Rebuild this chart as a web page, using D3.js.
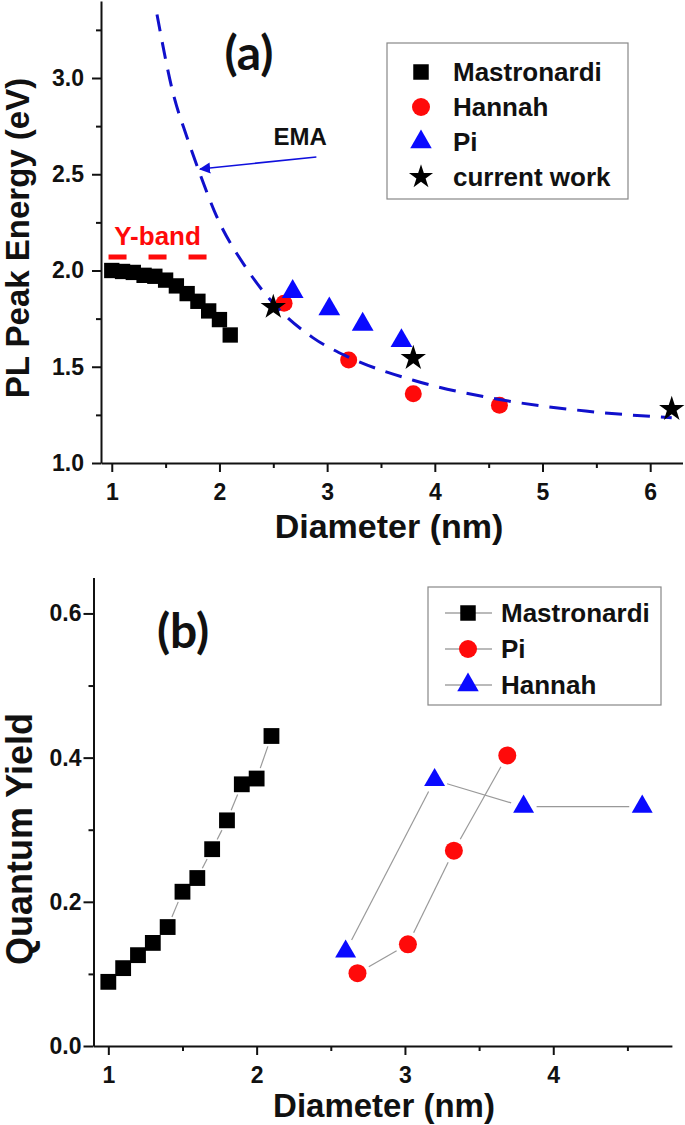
<!DOCTYPE html>
<html><head><meta charset="utf-8">
<script src="https://cdn.jsdelivr.net/npm/d3@7/dist/d3.min.js"></script>
<style>
body{margin:0;background:#fff}
svg text{font-family:"Liberation Sans",Arial,sans-serif;font-weight:bold;fill:#111}
</style>
</head><body>
<svg id="c" width="685" height="1125"></svg>
<script>
// ---------- Panel (a): PL peak energy vs diameter ----------
const mastD   = [1.0,1.1,1.2,1.3,1.4,1.5,1.6,1.7,1.8,1.9,2.0,2.1];
const mastE   = [2.00,1.995,1.99,1.975,1.97,1.95,1.92,1.88,1.84,1.79,1.745,1.665];
const hannahD = [2.6,3.2,3.8,4.6];
const hannahE = [1.83,1.535,1.36,1.30];
const piD     = [2.68,3.02,3.33,3.69];
const piE     = [1.89,1.80,1.72,1.635];
const curD    = [2.5,3.8,6.2];
const curE    = [1.81,1.545,1.28];
const emaD    = [1.42,1.57,1.70,1.82,1.975,2.24,2.5,2.87,3.2,3.8,4.6,5.4,6.2];
const emaE    = [3.33,2.92,2.69,2.50,2.28,2.02,1.83,1.65,1.55,1.43,1.33,1.27,1.235];
const yBandD  = [0.97,1.91];
const yBandE  = 2.07;
const topXTicks = [1,2,3,4,5,6];
const topXMinor = [1.5,2.5,3.5,4.5,5.5];
const topYTicks = [1.0,1.5,2.0,2.5,3.0];
const topYMinor = [1.25,1.75,2.25,2.75,3.25];
const topLegend = ["Mastronardi","Hannah","Pi","current work"];

// ---------- Panel (b): quantum yield vs diameter ----------
const qyMastD   = [1.0,1.1,1.2,1.3,1.4,1.5,1.6,1.7,1.8,1.9,2.0,2.1];
const qyMast    = [0.089,0.108,0.126,0.143,0.165,0.214,0.233,0.273,0.313,0.363,0.371,0.430];
const qyPiD     = [2.68,3.02,3.33,3.69];
const qyPi      = [0.101,0.141,0.271,0.403];
const qyHannahD = [2.6,3.2,3.8,4.6];
const qyHannah  = [0.131,0.369,0.332,0.332];
const botXTicks = [1,2,3,4];
const botXMinor = [1.5,2.5,3.5,4.5];
const botYTicks = [0.0,0.2,0.4,0.6];
const botYMinor = [0.1,0.3,0.5];
const botLegend = ["Mastronardi","Pi","Hannah"];

const RED = "#ff0a0a", BLUE = "#0a0aff", BLACK = "#000";
const svg = d3.select("#c");

function sym(type, size){ return d3.symbol().type(type).size(size)(); }

function drawAxes(g, x, y, xt, xm, yt, ym, yfmt, yPad, yTick){
  const ax = g.append("g").attr("transform", `translate(0,${y.range()[0]})`)
    .call(d3.axisBottom(x).tickValues(xt).tickSize(9).tickSizeOuter(0).tickPadding(12).tickFormat(d3.format("d")));
  ax.selectAll("text").style("font-size","23px");
  g.append("g").attr("transform", `translate(0,${y.range()[0]})`)
    .call(d3.axisBottom(x).tickValues(xm).tickSize(5).tickSizeOuter(0).tickFormat(""))
    .select(".domain").remove();
  const ay = g.append("g").attr("transform", `translate(${x.range()[0]},0)`)
    .call(d3.axisLeft(y).tickValues(yt).tickSize(yTick).tickSizeOuter(0).tickPadding(yPad).tickFormat(yfmt));
  ay.selectAll("text").style("font-size","23px");
  g.append("g").attr("transform", `translate(${x.range()[0]},0)`)
    .call(d3.axisLeft(y).tickValues(ym).tickSize(5).tickSizeOuter(0).tickFormat(""))
    .select(".domain").remove();
  g.selectAll(".domain, .tick line").attr("stroke","#111").attr("stroke-width",2);
}

// ================= Panel (a) =================
const xa = d3.scaleLinear().domain([0.9,6.3]).range([101,682.5]);
const ya = d3.scaleLinear().domain([1.0,3.4]).range([463,1]);
const ga = svg.append("g");
drawAxes(ga, xa, ya, topXTicks, topXMinor, topYTicks, topYMinor, d3.format(".1f"), 8, 9);

ga.append("text").attr("x",389).attr("y",538).attr("text-anchor","middle")
  .style("font-size","34px").text("Diameter (nm)");
ga.append("text").attr("transform","translate(29,238) rotate(-90)").attr("text-anchor","middle")
  .style("font-size","33px").text("PL Peak Energy (eV)");
ga.append("text").attr("x",249).attr("y",70).attr("text-anchor","middle")
  .style("font-family","Lato, 'Open Sans', sans-serif").style("font-size","48px").text("(a)");

// Y-band
ga.append("line").attr("x1",xa(yBandD[0])).attr("x2",xa(yBandD[1]))
  .attr("y1",ya(yBandE)).attr("y2",ya(yBandE))
  .attr("stroke",RED).attr("stroke-width",5).attr("stroke-dasharray","18,22");
ga.append("text").attr("x",xa(1.425)).attr("y",ya(2.13)).attr("text-anchor","middle")
  .style("font-size","26px").style("fill",RED).text("Y-band");

// data
ga.selectAll(".ms").data(d3.zip(mastD,mastE)).join("path")
  .attr("transform",d=>`translate(${xa(d[0])},${ya(d[1])})`).attr("d",sym(d3.symbolSquare,235)).attr("fill",BLACK);
ga.selectAll(".hc").data(d3.zip(hannahD,hannahE)).join("circle")
  .attr("cx",d=>xa(d[0])).attr("cy",d=>ya(d[1])).attr("r",8.5).attr("fill",RED);
ga.selectAll(".pt").data(d3.zip(piD,piE)).join("path")
  .attr("transform",d=>`translate(${xa(d[0])},${ya(d[1])})`).attr("d",sym(d3.symbolTriangle,205)).attr("fill",BLUE);

// EMA curve
ga.append("path").datum(d3.zip(emaD,emaE))
  .attr("d", d3.line().x(d=>xa(d[0])).y(d=>ya(d[1])).curve(d3.curveMonotoneX))
  .attr("fill","none").attr("stroke","#1010cc").attr("stroke-width",3).attr("stroke-dasharray","17,11");

ga.selectAll(".st").data(d3.zip(curD,curE)).join("path")
  .attr("transform",d=>`translate(${xa(d[0])},${ya(d[1])})`).attr("d",sym(d3.symbolStar,200)).attr("fill",BLACK);

// EMA arrow + label
const defs = svg.append("defs");
defs.append("marker").attr("id","arr").attr("viewBox","0 0 10 10").attr("refX",9).attr("refY",5)
  .attr("markerWidth",7).attr("markerHeight",7).attr("orient","auto-start-reverse")
  .append("path").attr("d","M0,0 L10,5 L0,10 z").attr("fill","#1010dd");
ga.append("line").attr("x1",xa(2.90)).attr("y1",ya(2.59)).attr("x2",xa(1.82)).attr("y2",ya(2.527))
  .attr("stroke","#1010dd").attr("stroke-width",1.6).attr("marker-end","url(#arr)");
ga.append("text").attr("x",xa(2.75)).attr("y",ya(2.65)).attr("text-anchor","middle")
  .style("font-size","24px").text("EMA");

// legend (a)
const la = ga.append("g");
la.append("rect").attr("x",387).attr("y",43).attr("width",241).attr("height",156)
  .attr("fill","#fff").attr("stroke","#888").attr("stroke-width",1.2);
const laSyms = [
  g=>g.append("path").attr("d",sym(d3.symbolSquare,240)).attr("fill",BLACK),
  g=>g.append("circle").attr("r",9).attr("fill",RED),
  g=>g.append("path").attr("d",sym(d3.symbolTriangle,200)).attr("fill",BLUE),
  g=>g.append("path").attr("d",sym(d3.symbolStar,180)).attr("fill",BLACK)
];
topLegend.forEach((name,i)=>{
  const yy = 72 + i*35;
  laSyms[i](la.append("g").attr("transform",`translate(421,${yy})`));
  la.append("text").attr("x",453).attr("y",yy+9).style("font-size","26px").text(name);
});

// ================= Panel (b) =================
const xb = d3.scaleLinear().domain([0.9,4.8]).range([93.5,671.9]);
const yb = d3.scaleLinear().domain([0,0.65]).range([1046,577.4]);
const gb = svg.append("g");
drawAxes(gb, xb, yb, botXTicks, botXMinor, botYTicks, botYMinor, d3.format(".1f"), 2, 10);

gb.append("text").attr("x",384).attr("y",1117).attr("text-anchor","middle")
  .style("font-size","33px").text("Diameter (nm)");
gb.append("text").attr("transform","translate(32,839) rotate(-90)").attr("text-anchor","middle")
  .style("font-size","36px").text("Quantum Yield");
gb.append("text").attr("x",183).attr("y",648).attr("text-anchor","middle")
  .style("font-family","Lato, 'Open Sans', sans-serif").style("font-size","48px").text("(b)");

function gapLine(g, xs, ys, gap){
  for(let i=0;i<xs.length-1;i++){
    const x1=xb(xs[i]), y1=yb(ys[i]), x2=xb(xs[i+1]), y2=yb(ys[i+1]);
    const L=Math.hypot(x2-x1,y2-y1); if(L<=2*gap) continue;
    const ux=(x2-x1)/L, uy=(y2-y1)/L;
    g.append("line").attr("x1",x1+ux*gap).attr("y1",y1+uy*gap).attr("x2",x2-ux*gap).attr("y2",y2-uy*gap)
      .attr("stroke","#999").attr("stroke-width",1.2);
  }
}
gapLine(gb, qyMastD, qyMast, 11);
gapLine(gb, qyPiD, qyPi, 13);
gapLine(gb, qyHannahD, qyHannah, 13);

gb.selectAll(".bm").data(d3.zip(qyMastD,qyMast)).join("path")
  .attr("transform",d=>`translate(${xb(d[0])},${yb(d[1])})`).attr("d",sym(d3.symbolSquare,250)).attr("fill",BLACK);
gb.selectAll(".bp").data(d3.zip(qyPiD,qyPi)).join("circle")
  .attr("cx",d=>xb(d[0])).attr("cy",d=>yb(d[1])).attr("r",9).attr("fill",RED);
gb.selectAll(".bh").data(d3.zip(qyHannahD,qyHannah)).join("path")
  .attr("transform",d=>`translate(${xb(d[0])},${yb(d[1])})`).attr("d",sym(d3.symbolTriangle,190)).attr("fill",BLUE);

// legend (b)
const lb = gb.append("g");
lb.append("rect").attr("x",428).attr("y",587).attr("width",233).attr("height",118)
  .attr("fill","#fff").attr("stroke","#888").attr("stroke-width",1.2);
const lbSyms = [
  g=>g.append("path").attr("d",sym(d3.symbolSquare,240)).attr("fill",BLACK),
  g=>g.append("circle").attr("r",9).attr("fill",RED),
  g=>g.append("path").attr("d",sym(d3.symbolTriangle,200)).attr("fill",BLUE)
];
botLegend.forEach((name,i)=>{
  const yy = 613 + i*36;
  lb.append("line").attr("x1",445).attr("x2",492).attr("y1",yy).attr("y2",yy).attr("stroke","#777").attr("stroke-width",1.2);
  lbSyms[i](lb.append("g").attr("transform",`translate(468,${yy})`));
  lb.append("text").attr("x",501).attr("y",yy+9).style("font-size","26px").text(name);
});
</script>
</body></html>
